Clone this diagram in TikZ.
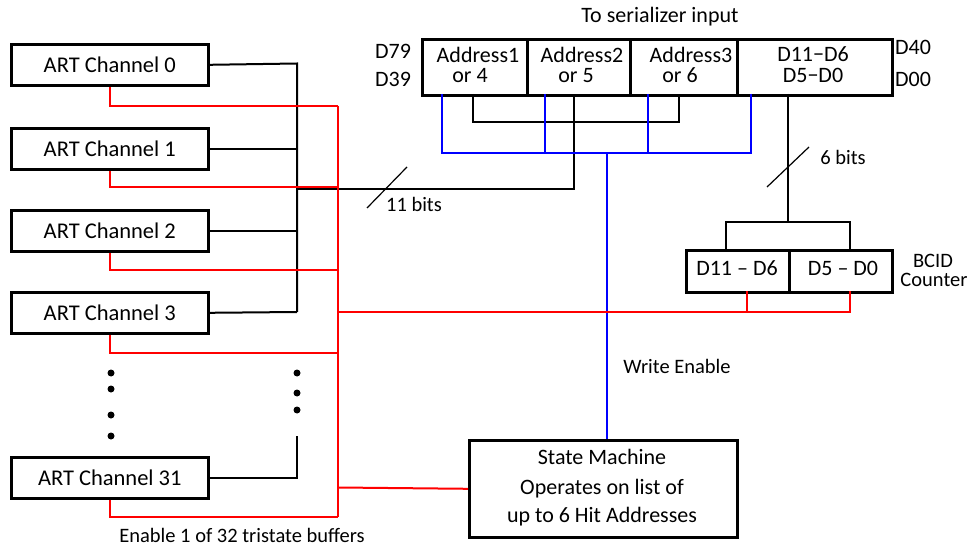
\documentclass[tikz,border=0pt]{standalone}
\usepackage{fontspec}
\setmainfont{Carlito}
\newcommand{\fA}{\fontsize{22.5bp}{26bp}\selectfont}
\newcommand{\fB}{\fontsize{22bp}{24bp}\selectfont}
\newcommand{\fC}{\fontsize{20.5bp}{22bp}\selectfont}
\begin{document}
\begin{tikzpicture}[x=1bp,y=-1bp,
  box/.style={draw, line width=2.6bp, inner sep=0pt, anchor=north west},
  wire/.style={line width=2bp},
  rwire/.style={line width=2bp, red},
  bwire/.style={line width=2bp, blue},
  slash/.style={line width=1.2bp},
  lbl/.style={inner sep=0pt, font=\fB, text height=15bp, text depth=4bp},
  slbl/.style={inner sep=0pt, font=\fC, text height=14bp, text depth=4bp},
  dot/.style={circle, fill=black, inner sep=0pt, minimum size=7bp}]
\useasboundingbox (0,0) rectangle (971,549);
% ART channel boxes
\node[box, minimum width=197bp, minimum height=41bp, font=\fA] (c0) at (10,43) {ART Channel 0};
\node[box, minimum width=197bp, minimum height=41bp, font=\fA] (c1) at (10,127) {ART Channel 1};
\node[box, minimum width=197bp, minimum height=41bp, font=\fA] (c2) at (10,209) {ART Channel 2};
\node[box, minimum width=197bp, minimum height=41bp, font=\fA] (c3) at (10,291) {ART Channel 3};
\node[box, minimum width=197bp, minimum height=41bp, font=\fA] (c31) at (10,456) {ART Channel 31};
% serializer register
\node[box, minimum width=105bp, minimum height=56bp] (a1) at (421,38) {};
\node[box, minimum width=103bp, minimum height=56bp] (a2) at (526,38) {};
\node[box, minimum width=107bp, minimum height=56bp] (a3) at (629,38) {};
\node[box, minimum width=155bp, minimum height=56bp] (a4) at (736,38) {};
% BCID counter
\node[box, minimum width=103bp, minimum height=42bp] (b1) at (685,249) {};
\node[box, minimum width=103bp, minimum height=42bp] (b2) at (788,249) {};
% state machine
\node[box, minimum width=268bp, minimum height=97bp] (sm) at (468,439) {};
% coordinates
\coordinate (bus0) at (297,63.5);
\coordinate (bus3) at (297,312);
\coordinate (bus31) at (297,436);
\coordinate (rtop) at (338,106);
\coordinate (rbot) at (338,517);
\coordinate (rsm) at (338,487.5);
\coordinate (rbc) at (338,312);
\coordinate (bcL) at (747,291);
\coordinate (bcR) at (850,291);
\coordinate (ad1) at (473,94);
\coordinate (ad2) at (574,94);
\coordinate (ad3) at (679,94);
\coordinate (bl1) at (442,94);
\coordinate (bl2) at (545,94);
\coordinate (bl3) at (648,94);
\coordinate (bl4) at (751,94);
\coordinate (blj) at (607,153);
\coordinate (bk11) at (297,189.5);
\coordinate (d4) at (788,94);
\coordinate (bsp) at (788,222);
\coordinate (bsL) at (726,249);
\coordinate (bsR) at (850,249);
% black channel bus
\draw[wire] (c0.east) -- (bus0) -- (bus3);
\draw[wire] (c1.east) -- (c1.east -| bus0);
\draw[wire] (c2.east) -- (c2.east -| bus0);
\draw[wire] (c3.east) -- (bus3);
\draw[wire] (c31.east) -| (bus31);
% 11-bit address line
\draw[wire] (bk11) -| (ad2);
\draw[wire] (ad1) -- (473,122) -| (ad3);
% blue write enable
\draw[bwire] (bl1) |- (blj);
\draw[bwire] (bl4) |- (blj);
\draw[bwire] (bl2) -- (bl2 |- blj);
\draw[bwire] (bl3) -- (bl3 |- blj);
\draw[bwire] (blj) -- (sm.north -| blj);
% red enables
\draw[rwire] (rtop) -- (rbot);
\draw[rwire] (c0.south) |- (rtop);
\draw[rwire] (c1.south) |- (338,187.5);
\draw[rwire] (c2.south) |- (338,270);
\draw[rwire] (c3.south) |- (338,353);
\draw[rwire] (c31.south) |- (rbot);
\draw[rwire] (rsm) -- (sm.west);
\draw[rwire] (rbc) -| (bcR);
\draw[rwire] (bcL) -- (bcL |- rbc);
% BCID to register
\draw[wire] (d4) -- (bsp);
\draw[wire] (bsL) |- (bsp) -| (bsR);
% slashes
\draw[slash] (367,208) -- (407,167);
\draw[slash] (767,187) -- (809,147);
% dots
\foreach \yy [count=\i] in {373,389,415,436} \node[dot] (dl\i) at (111,\yy) {};
\foreach \yy [count=\i] in {373,393,410} \node[dot] (dr\i) at (297,\yy) {};
% texts
\node[lbl] (tser) at (660,17) {To serializer input};
\node[lbl] (t79) at (393,53) {D79};
\node[lbl] (t39) at (393,81) {D39};
\node[lbl] (t40) at (913,49) {D40};
\node[lbl] (t00) at (913,81) {D00};
\node[lbl] (ta1) at (478,57) {Address1};
\node[lbl] (tb1) at (470,77) {or 4};
\node[lbl] (ta2) at (582,57) {Address2};
\node[lbl] (tb2) at (576,77) {or 5};
\node[lbl] (ta3) at (691,57) {Address3};
\node[lbl] (tb3) at (680,77) {or 6};
\node[lbl] (td1) at (813,56) {D11\char"2212 D6};
\node[lbl] (td2) at (813,77) {D5\char"2212 D0};
\node[lbl] (tc1) at (737,270) {D11 – D6};
\node[lbl] (tc2) at (843,270) {D5 – D0};
\node[slbl] (tbc) at (933,263) {BCID};
\node[slbl] (tco) at (934,282) {Counter};
\node[slbl] (t6) at (843,160) {6 bits};
\node[slbl] (t11) at (414,207) {11 bits};
\node[slbl] (twe) at (677,368) {Write Enable};
\node[slbl] (ten) at (242,537) {Enable 1 of 32 tristate buffers};
\node[lbl] (ts1) at (602,459) {State Machine};
\node[lbl] (ts2) at (602,489) {Operates on list of};
\node[lbl] (ts3) at (602,517) {up to 6 Hit Addresses};
\end{tikzpicture}
\end{document}
